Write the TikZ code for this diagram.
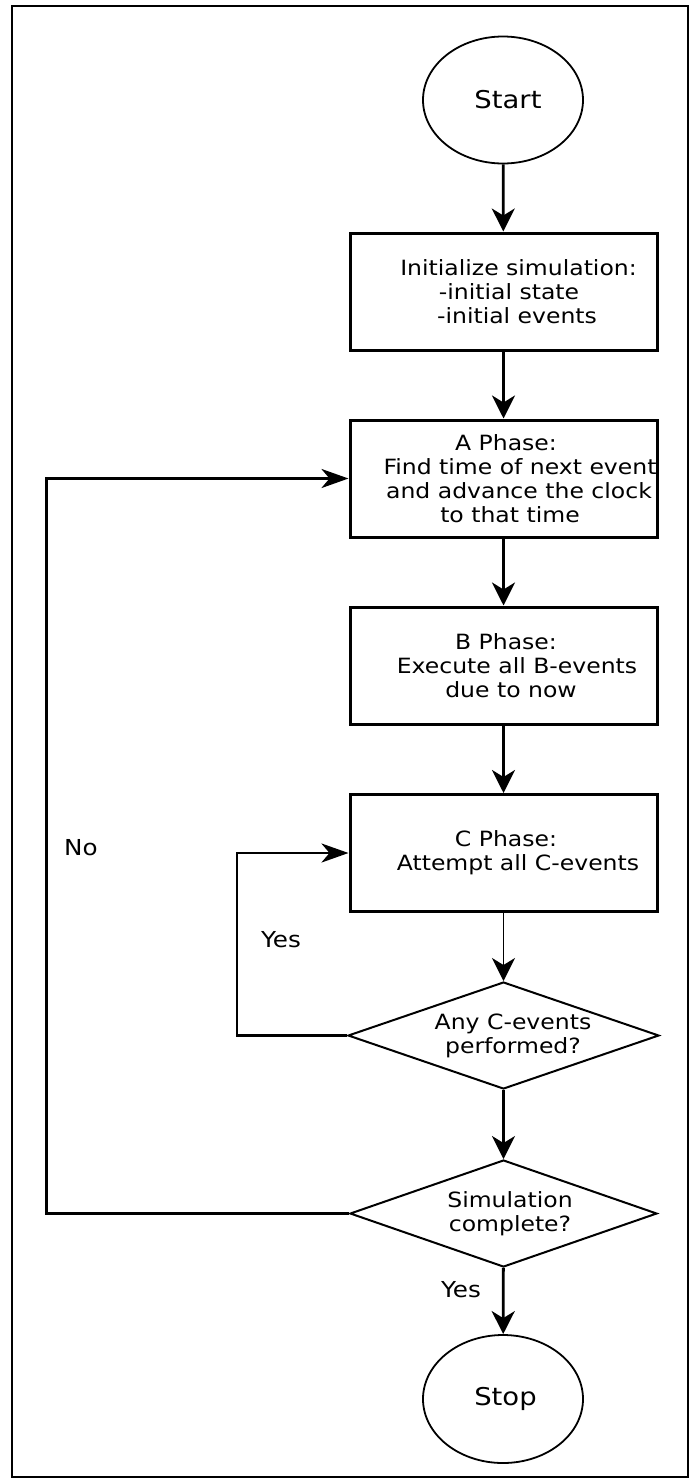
\documentclass[tikz,border=0pt]{standalone}
\usepackage{fontspec}
\setmainfont{DejaVu Sans}[FakeStretch=1.12]
\usetikzlibrary{shapes.geometric,arrows.meta}

% shift a single centred line to the right by half the given amount
\newcommand{\nudge}[2]{\hspace*{#1}#2}

\tikzset{
  box/.style={draw, line width=3pt, minimum width=307pt, minimum height=117pt,
    inner sep=0pt, align=center, font=\fontsize{21}{24}\selectfont},
  terminal/.style={ellipse, draw, line width=1.8pt, minimum width=160pt,
    minimum height=127pt, inner sep=0pt, font=\fontsize{24.5}{26}\selectfont},
  decision/.style={diamond, draw, line width=2pt, inner sep=0pt, aspect=2.9,
    align=center, font=\fontsize{21}{24}\selectfont},
  flow/.style={-{Stealth[length=23pt,width=23pt,inset=7pt]}},
  side/.style={-{Stealth[length=27pt,width=19pt,inset=8pt]}},
  tag/.style={inner sep=0pt, font=\fontsize{22}{24}\selectfont},
}

\begin{document}
\begin{tikzpicture}[x=1pt, y=-1pt]
  \useasboundingbox (0,0) rectangle (689,1481);
  \fill[white] (0,0) rectangle (689,1481);
  \draw[line width=2.6pt] (12,6) rectangle (688,1477);

  % process steps
  \node[terminal] (start) at (503,100) {\nudge{10pt}{Start}};
  \node[box] (init) at (503.5,291.5)
    {\nudge{30pt}{Initialize simulation:}\\ \nudge{11pt}{-initial state}\\ \nudge{27pt}{-initial events}};
  \node[box] (aph) at (503.5,478.5)
    {\nudge{5pt}{A Phase:}\\ \nudge{33pt}{Find time of next event}\\ \nudge{31pt}{and advance the clock}\\ \nudge{13pt}{to that time}};
  \node[box] (bph) at (503.5,665.5)
    {\nudge{5pt}{B Phase:}\\ \nudge{27pt}{Execute all B-events}\\ \nudge{15pt}{due to now}};
  \node[box] (cph) at (503.5,853)
    {\nudge{5pt}{C Phase:}\\ \nudge{29pt}{Attempt all C-events}};
  \node[decision, minimum width=311pt, minimum height=107pt] (anyc) at (503.5,1035.5)
    {\nudge{19pt}{Any C-events}\\ \nudge{19pt}{performed?}};
  \node[decision, minimum width=307pt, minimum height=107pt] (simdone) at (503.5,1213.5)
    {\nudge{13pt}{Simulation}\\ \nudge{13pt}{complete?}};
  \node[terminal, minimum height=128pt] (stop) at (503,1399) {\nudge{5pt}{Stop}};

  % main flow
  \draw[flow, line width=2.8pt] (start) -- (init);
  \draw[flow, line width=3.2pt] (init) -- (aph);
  \draw[flow, line width=3.2pt] (aph) -- (bph);
  \draw[flow, line width=3.2pt] (bph) -- (cph);
  \draw[flow, line width=1.8pt] (cph) -- (anyc);
  \draw[flow, line width=2.3pt] (anyc) -- (simdone);
  \draw[flow, line width=2.8pt] (simdone) -- (stop);

  % loops back
  \coordinate (yesturn) at (237,853);
  \coordinate (noturn) at (46,478.5);
  \draw[side, line width=2.8pt] (anyc.west) -| (yesturn) -- (cph.west);
  \draw[side, line width=3pt] (simdone.west) -| (noturn) -- (aph.west);

  % branch labels
  \node[tag] (yesloop) at (281,940) {Yes};
  \node[tag] (noloop) at (81,848) {No};
  \node[tag] (yesend) at (461,1290) {Yes};
\end{tikzpicture}
\end{document}
